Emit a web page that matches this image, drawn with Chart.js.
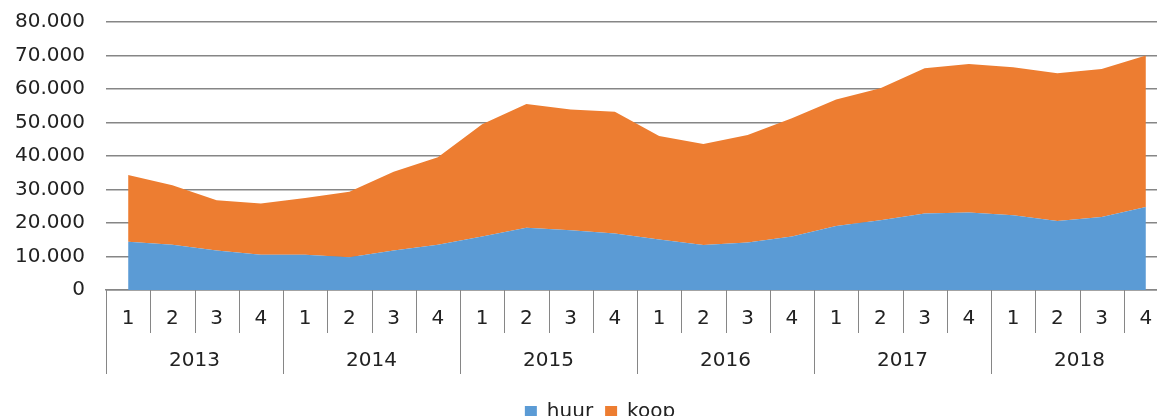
<!DOCTYPE html>
<html>
<head>
<meta charset="utf-8">
<script src="https://cdn.jsdelivr.net/npm/chart.js@4.4.1/dist/chart.umd.min.js"></script>
<style>
  html, body { margin: 0; padding: 0; overflow: hidden; background: #fff; }
  #wrap { width: 1200px; height: 432px; }
</style>
</head>
<body>
<div id="wrap"><canvas id="areaChart" width="1200" height="432"></canvas></div>
<script>
const years = ["2013", "2014", "2015", "2016", "2017", "2018"];
const quarters = ["1", "2", "3", "4"];
const categories = years.flatMap((y) => quarters.map((q) => y + " " + q));

const huur = [
  14400, 13500, 11800, 10500, 10500, 9800, 11800, 13500,
  16000, 18600, 17800, 16900, 15100, 13400, 14200, 16000,
  19100, 20800, 22800, 23100, 22300, 20600, 21800, 24800,
];
const koop = [
  19900, 17800, 15000, 15300, 17000, 19500, 23500, 26100,
  33500, 36900, 36100, 36300, 30900, 30200, 32100, 35300,
  37800, 39400, 43400, 44400, 44200, 44100, 44200, 45200,
];

const FONT = "'DejaVu Sans', Verdana, sans-serif";
const TEXT = "#222222";
const GRID = "#868686";

function formatThousands(v) {
  return String(v).replace(/\B(?=(\d{3})+(?!\d))/g, ".");
}

// two-level category axis: quarters on the first row, years below
const groupedAxis = {
  id: "groupedAxis",
  afterLayout(chart) {
    // legend sits a bit right of the canvas centre in the original
    chart.legend.left += 32;
  },
  afterDraw(chart) {
    const x = chart.scales.x;
    const ctx = chart.ctx;
    const top = chart.chartArea.bottom;
    const half = (x.getPixelForValue(1) - x.getPixelForValue(0)) / 2;

    ctx.save();
    ctx.strokeStyle = GRID;
    ctx.lineWidth = 1;
    for (let i = 0; i <= categories.length; i++) {
      const px =
        i < categories.length
          ? x.getPixelForValue(i) - half
          : x.getPixelForValue(i - 1) + half;
      const len = i % quarters.length === 0 ? 84 : 43;
      const xx = Math.round(px) + 0.5;
      ctx.beginPath();
      ctx.moveTo(xx, top);
      ctx.lineTo(xx, top + len);
      ctx.stroke();
    }

    ctx.fillStyle = TEXT;
    ctx.font = "20px " + FONT;
    ctx.textAlign = "center";
    ctx.textBaseline = "middle";
    categories.forEach((c, i) => {
      ctx.fillText(quarters[i % quarters.length], x.getPixelForValue(i), top + 29);
    });
    years.forEach((y, j) => {
      const a = x.getPixelForValue(j * quarters.length);
      const b = x.getPixelForValue(j * quarters.length + quarters.length - 1);
      ctx.fillText(y, (a + b) / 2, top + 71);
    });
    ctx.restore();
  },
};

const ctx = document.getElementById("areaChart").getContext("2d");
new Chart(ctx, {
  type: "line",
  data: {
    labels: categories,
    datasets: [
      {
        label: "huur",
        data: huur,
        backgroundColor: "#5B9BD5",
        borderColor: "#5B9BD5",
        borderWidth: 0,
        pointRadius: 0,
        fill: "origin",
        tension: 0,
      },
      {
        label: "koop",
        data: koop,
        backgroundColor: "#ED7D31",
        borderColor: "#ED7D31",
        borderWidth: 0,
        pointRadius: 0,
        fill: "-1",
        tension: 0,
      },
    ],
  },
  options: {
    responsive: false,
    animation: false,
    layout: { padding: { top: 22, right: 32, left: 0, bottom: 0 } },
    scales: {
      x: {
        offset: true,
        grid: { display: false },
        border: { display: true, color: GRID, width: 1.5 },
        ticks: { display: false },
        afterFit: (scale) => {
          scale.height = 100;
        },
      },
      y: {
        stacked: true,
        min: 0,
        max: 80000,
        ticks: {
          stepSize: 10000,
          padding: 21,
          color: TEXT,
          font: { size: 20, family: FONT },
          callback: (v) => formatThousands(v),
        },
        grid: { color: GRID, lineWidth: 1.5, drawTicks: false },
        border: { display: false },
        afterFit: (scale) => {
          scale.width = 106;
          scale.paddingTop = 0;
          scale.paddingBottom = 0;
        },
      },
    },
    plugins: {
      legend: {
        position: "bottom",
        labels: {
          boxWidth: 12,
          boxHeight: 12,
          padding: 12,
          color: TEXT,
          font: { size: 20, family: FONT },
        },
      },
      tooltip: { enabled: false },
    },
  },
  plugins: [groupedAxis],
});
</script>
</body>
</html>
